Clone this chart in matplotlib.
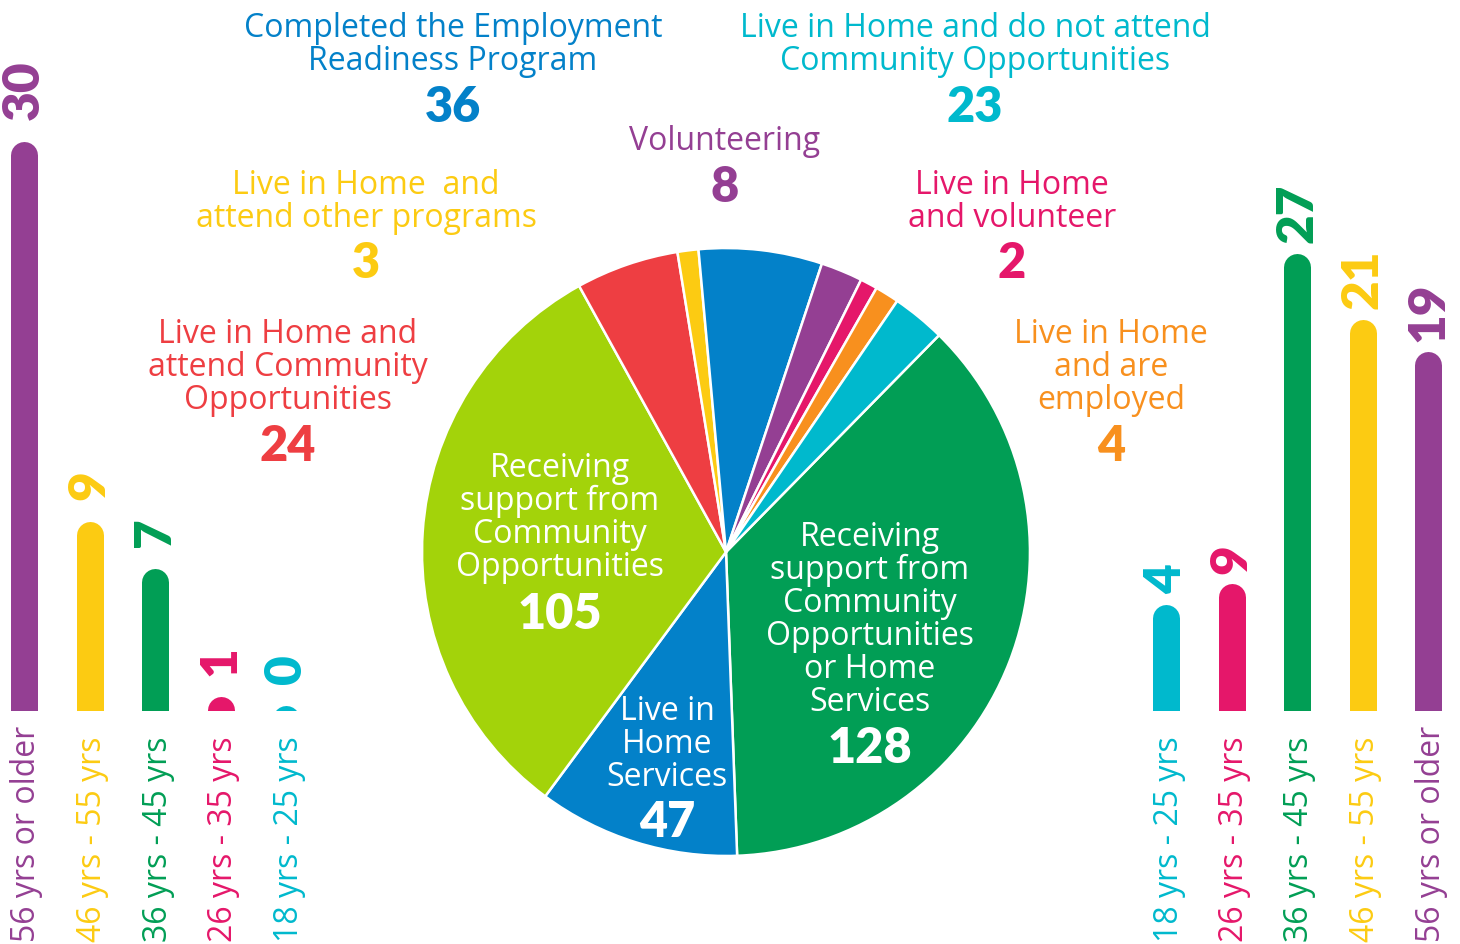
import matplotlib
matplotlib.use("Agg")
import matplotlib.pyplot as plt
from matplotlib.transforms import blended_transform_factory

plt.rcParams['font.family'] = ['Open Sans', 'DejaVu Sans']
NUM_FONT = ['Lato', 'DejaVu Sans']

W, H = 1460, 945

# colours
PURPLE = '#943F93'
YELLOW = '#FCCB12'
GREEN = '#019E55'
PINK = '#E5176A'
CYAN = '#00B9CD'
BLUE = '#0381C9'
LIME = '#A3D30A'
RED = '#EE3E42'
ORANGE = '#F8901E'

# ---------------- pie data (clockwise from the green wedge) ----------------
pie_names = [
    'Receiving support from Community Opportunities or Home Services',
    'Live in Home Services',
    'Receiving support from Community Opportunities',
    'Live in Home and attend Community Opportunities',
    'Live in Home and attend other programs',
    'Completed the Employment Readiness Program',
    'Volunteering',
    'Live in Home and volunteer',
    'Live in Home and are employed',
    'Live in Home and do not attend Community Opportunities',
]
pie_counts = [128, 47, 105, 24, 3, 36, 8, 2, 4, 23]
# wedge sizes as drawn in the infographic (degrees)
pie_wedge_deg = [133.4, 38.6, 114.6, 19.7, 4.0, 23.6, 8.0, 3.3, 4.6, 10.2]
pie_colors = [GREEN, BLUE, LIME, RED, YELLOW, BLUE, PURPLE, PINK, ORANGE, CYAN]

# ---------------- age bars ----------------
left_ages = ['56 yrs or older', '46 yrs - 55 yrs', '36 yrs - 45 yrs',
             '26 yrs - 35 yrs', '18 yrs - 25 yrs']
left_counts = [30, 9, 7, 1, 0]
left_drawn = [30.0, 10.0, 7.5, 0.74, 0.3]      # bar lengths as drawn
left_colors = [PURPLE, YELLOW, GREEN, PINK, CYAN]

right_ages = ['18 yrs - 25 yrs', '26 yrs - 35 yrs', '36 yrs - 45 yrs',
              '46 yrs - 55 yrs', '56 yrs or older']
right_counts = [4, 9, 27, 21, 19]
right_drawn = [5.6, 6.7, 24.1, 20.6, 18.9]
right_colors = [CYAN, PINK, GREEN, YELLOW, PURPLE]

fig = plt.figure(figsize=(W / 100, H / 100), dpi=100)


def px_axes(x0, y0, x1, y1):
    # axes from pixel box (y measured from top)
    return fig.add_axes([x0 / W, 1 - y1 / H, (x1 - x0) / W, (y1 - y0) / H])


# ---------------- pie ----------------
cx, cy, r = 726, 553, 307
ax_pie = px_axes(cx - r, cy - r, cx + r, cy + r)
ax_pie.pie(pie_wedge_deg, colors=pie_colors, startangle=45.5, counterclock=False,
           wedgeprops=dict(edgecolor='white', linewidth=1.8))
ax_pie.set_xlim(-1.01, 1.01)
ax_pie.set_ylim(-1.01, 1.01)
ax_pie.set_aspect('equal')
ax_pie.axis('off')

# ---------------- bars ----------------
BASE = 712
PX_PER_UNIT = 19.0
BAR_W = 27


def bar_group(x0, x1, first_center, step, drawn, counts, ages, colors, gap):
    ax = px_axes(x0, 0, x1, BASE)
    ax.set_xlim((x0 - first_center) / step, (x1 - first_center) / step)
    ax.set_ylim(0, BASE / PX_PER_UNIT)
    ax.axis('off')
    rad = (BAR_W / 2) / PX_PER_UNIT
    lw = BAR_W * 72 / 100
    tr = blended_transform_factory(ax.transData, fig.transFigure)
    for i, (h, c, a, col) in enumerate(zip(drawn, counts, ages, colors)):
        ax.plot([i, i], [-rad, h - rad], color=col, lw=lw,
                solid_capstyle='round')
        ax.annotate(str(c), (i, h), xytext=(0, gap), textcoords='offset points',
                    rotation=90, ha='center', va='bottom', color=col,
                    fontsize=37, fontweight='heavy', family=NUM_FONT,
                    annotation_clip=False)
        ax.text(i + 3 / step, 3 / H, a, transform=tr, rotation=90, ha='center',
                va='bottom', color=col, fontsize=23, clip_on=False)


bar_group(0, 310, 24, 65.6, left_drawn, left_counts, left_ages, left_colors, 16)
bar_group(1130, 1460, 1166, 65.5, right_drawn, right_counts, right_ages,
          right_colors, 8)


# ---------------- text blocks ----------------
def block(x, baselines, lines, color, num, num_base, size=23, nsize=35):
    for yb, t in zip(baselines, lines):
        fig.text(x / W, 1 - yb / H, t, ha='center', va='baseline',
                 color=color, fontsize=size)
    fig.text(x / W, 1 - num_base / H, str(num), ha='center', va='baseline',
             color=color, fontsize=nsize, fontweight='heavy', family=NUM_FONT)


block(453, [37, 70], ['Completed the Employment', 'Readiness Program'],
      BLUE, pie_counts[5], 122)
block(975, [37, 70], ['Live in Home and do not attend', 'Community Opportunities'],
      CYAN, pie_counts[9], 122)
block(725, [150], ['Volunteering'], PURPLE, pie_counts[6], 202)
block(366, [194, 227], ['Live in Home  and', 'attend other programs'],
      YELLOW, pie_counts[4], 278)
block(1012, [194, 227], ['Live in Home', 'and volunteer'],
      PINK, pie_counts[7], 278)
block(288, [343, 376, 409], ['Live in Home and', 'attend Community', 'Opportunities'],
      RED, pie_counts[3], 461)
block(1111, [343, 376, 409], ['Live in Home', 'and are', 'employed'],
      ORANGE, pie_counts[8], 461)

# inside the pie
block(560, [477, 510, 543, 576],
      ['Receiving', 'support from', 'Community', 'Opportunities'],
      'white', pie_counts[2], 629)
block(870, [546, 579, 612, 645, 678, 711],
      ['Receiving', 'support from', 'Community', 'Opportunities', 'or Home', 'Services'],
      'white', pie_counts[0], 763)
block(667, [720, 753, 786], ['Live in', 'Home', 'Services'],
      'white', pie_counts[1], 837)

fig.savefig('out.png', dpi=100, facecolor='white')
